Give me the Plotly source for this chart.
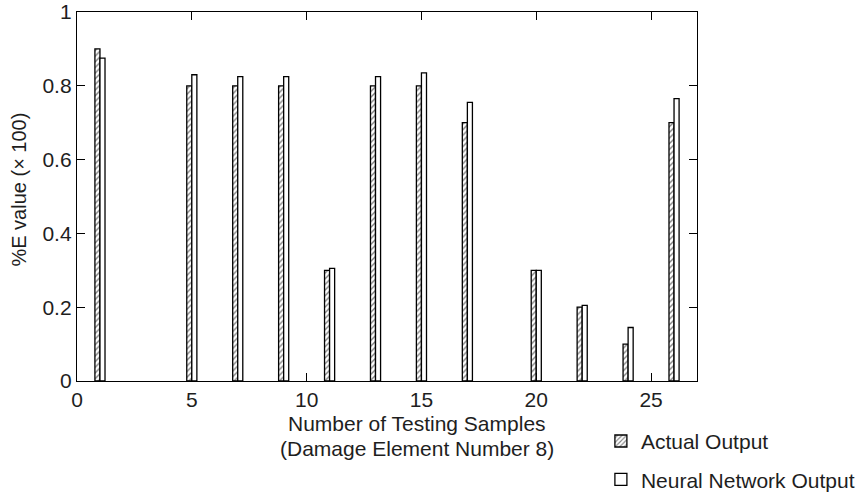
import plotly.graph_objects as go

samples = [1, 5, 7, 9, 11, 13, 15, 17, 20, 22, 24, 26]
actual = [0.90, 0.80, 0.80, 0.80, 0.30, 0.80, 0.80, 0.70, 0.30, 0.20, 0.10, 0.70]
neural = [0.875, 0.83, 0.825, 0.825, 0.305, 0.825, 0.835, 0.755, 0.30, 0.205, 0.145, 0.765]
x_ticks = [0, 5, 10, 15, 20, 25]
y_ticks = [0, 0.2, 0.4, 0.6, 0.8, 1.0]
y_tick_text = ["0", "0.2", "0.4", "0.6", "0.8", "1"]

FONT = "Liberation Sans, Arial, sans-serif"
TXT = "#1e1e1e"
FS = 21

fig = go.Figure()
fig.add_trace(go.Bar(
    x=samples, y=actual, name="Actual Output",
    width=0.22, offset=-0.22,
    marker=dict(color="white", line=dict(color="black", width=1.3),
                pattern=dict(shape="/", fgcolor="black", bgcolor="white", size=4, solidity=0.35)),
    legendgroup="a",
))
fig.add_trace(go.Bar(
    x=samples, y=neural, name="Neural Network Output",
    width=0.22, offset=0.0,
    marker=dict(color="white", line=dict(color="black", width=1.3)),
    legendgroup="b",
))

fig.update_layout(
    width=861, height=492,
    margin=dict(l=77, r=164, t=12, b=111, autoexpand=False),
    plot_bgcolor="white", paper_bgcolor="white",
    font=dict(family=FONT, size=FS, color=TXT),
    barmode="overlay",
    showlegend=True,
    legend=dict(x=0.845, xref="paper", y=-0.108, yref="paper", xanchor="left", yanchor="top",
                font=dict(size=FS, family=FONT, color=TXT), tracegroupgap=8,
                bgcolor="rgba(0,0,0,0)", itemwidth=30),
    xaxis=dict(range=[0, 27], tickvals=x_ticks, ticks="inside", ticklen=8, tickwidth=1.3,
               tickcolor="black", showline=True, linecolor="black", linewidth=1.3, mirror="ticks",
               showgrid=False, zeroline=False, tickfont=dict(size=FS)),
    yaxis=dict(range=[0, 1], tickvals=y_ticks, ticktext=y_tick_text, ticks="inside", ticklen=8,
               tickwidth=1.3, tickcolor="black", showline=True, linecolor="black", linewidth=1.3,
               mirror="ticks", showgrid=False, zeroline=False, tickfont=dict(size=FS)),
    annotations=[
        dict(text="Number of Testing Samples", x=0.549, y=-0.116,
             xref="paper", yref="paper", xanchor="center", yanchor="middle", showarrow=False,
             font=dict(size=FS, family=FONT, color=TXT)),
        dict(text="(Damage Element Number 8)", x=0.549, y=-0.183,
             xref="paper", yref="paper", xanchor="center", yanchor="middle", showarrow=False,
             font=dict(size=FS, family=FONT, color=TXT)),
        dict(text="%E value (× 100)", x=-0.094, y=0.518, textangle=-90,
             xref="paper", yref="paper", xanchor="center", yanchor="middle", showarrow=False,
             font=dict(size=20, family=FONT, color=TXT)),
    ],
)

fig.write_html("out.html")
